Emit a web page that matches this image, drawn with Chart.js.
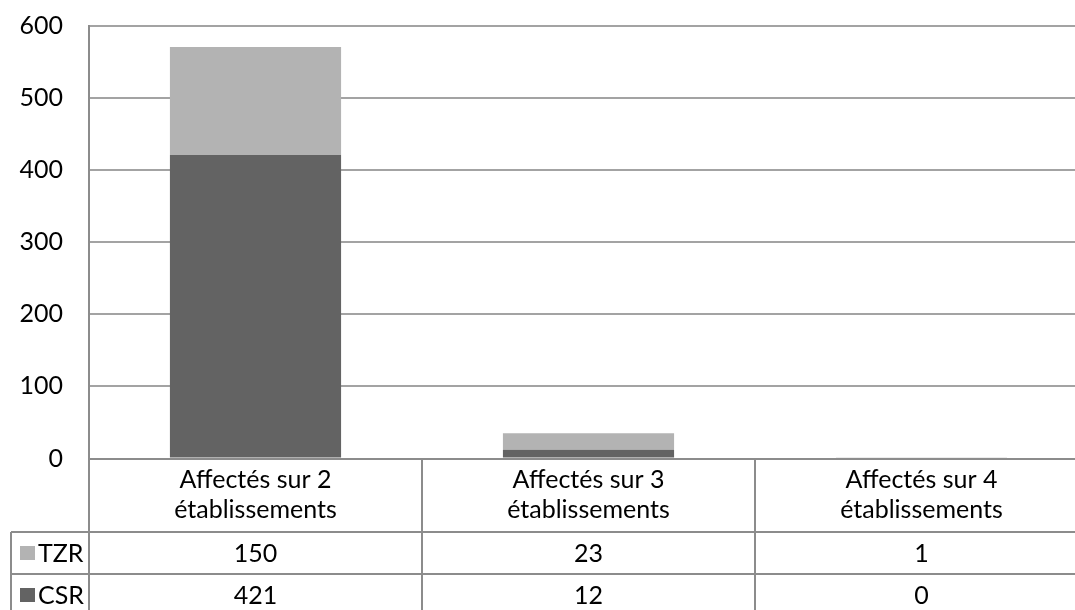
<!DOCTYPE html>
<html>
<head>
<meta charset="utf-8">
<script src="https://cdn.jsdelivr.net/npm/chart.js@4/dist/chart.umd.min.js"></script>
<style>
  html, body { margin: 0; padding: 0; background: #fff; overflow: hidden; }
  #wrap { position: absolute; left: 0; top: 0; width: 1100px; height: 610px; }
</style>
</head>
<body>
<div id="wrap"><canvas id="c" width="1100" height="610"></canvas></div>
<script>
const categories = [["Affectés sur 2", "établissements"], ["Affectés sur 3", "établissements"], ["Affectés sur 4", "établissements"]];
const seriesNames = ["TZR", "CSR"];
const tzrValues = [150, 23, 1];
const csrValues = [421, 12, 0];
const yTicks = [0, 100, 200, 300, 400, 500, 600];

const FONT = "Lato, 'Open Sans', sans-serif";
const FS = 25;
const colTZR = '#b3b3b3';
const colCSR = '#636363';
const lineCol = '#8c8c8c';

const tablePlugin = {
  id: 'dataTable',
  afterDraw(chart) {
    const ctx = chart.ctx;
    const xs = chart.scales.x;
    const area = chart.chartArea;
    const n = categories.length;
    const colW = (area.right - area.left) / n;
    const yTop = area.bottom;
    const yRow1 = yTop + 73.5;
    const yRow2 = yRow1 + 42;
    const yEnd = yRow2 + 42;
    const legLeft = 11;
    ctx.save();
    ctx.strokeStyle = lineCol;
    ctx.lineWidth = 2;
    ctx.beginPath();
    ctx.moveTo(legLeft, yRow1); ctx.lineTo(area.right, yRow1);
    ctx.moveTo(legLeft, yRow2); ctx.lineTo(area.right, yRow2);
    ctx.moveTo(legLeft, yRow1); ctx.lineTo(legLeft, yEnd);
    for (let i = 0; i <= n; i++) {
      const x = area.left + i * colW;
      ctx.moveTo(x, yTop); ctx.lineTo(x, yEnd);
    }
    ctx.stroke();

    const rows = [[seriesNames[0], colTZR, tzrValues, yRow1], [seriesNames[1], colCSR, csrValues, yRow2]];
    ctx.font = FS + 'px ' + FONT;
    ctx.textBaseline = 'middle';
    rows.forEach(([name, col, vals, y0]) => {
      const cy = y0 + 21;
      ctx.fillStyle = col;
      ctx.fillRect(20, cy - 7, 15, 14);
      ctx.fillStyle = '#000';
      ctx.textAlign = 'left';
      ctx.fillText(name, 38, cy + 1);
      ctx.textAlign = 'center';
      vals.forEach((v, i) => {
        ctx.fillText(String(v), xs.getPixelForValue(i), cy + 1);
      });
    });
    ctx.restore();
  }
};

new Chart(document.getElementById('c'), {
  type: 'bar',
  data: {
    labels: categories,
    datasets: [
      { label: seriesNames[1], data: csrValues, backgroundColor: colCSR, borderWidth: 0 },
      { label: seriesNames[0], data: tzrValues, backgroundColor: colTZR, borderWidth: 0 }
    ]
  },
  options: {
    responsive: false,
    animation: false,
    devicePixelRatio: 1,
    layout: { padding: { left: 0, top: 26, right: 12, bottom: 0 } },
    plugins: { legend: { display: false }, tooltip: { enabled: false } },
    datasets: { bar: { barPercentage: 1, categoryPercentage: 0.514 } },
    scales: {
      x: {
        stacked: true,
        grid: { display: false, drawTicks: false },
        border: { display: true, color: lineCol, width: 2 },
        ticks: { color: '#000', font: { family: FONT, size: FS, lineHeight: 30 / FS }, padding: 6.5, maxRotation: 0, autoSkip: false },
        afterFit(scale) { scale.height = 151.5; scale.paddingLeft = 0; scale.paddingRight = 0; }
      },
      y: {
        stacked: true,
        min: 0, max: 600,
        afterBuildTicks(scale) { scale.ticks = yTicks.map(v => ({ value: v })); },
        grid: { color: '#a3a3a3', lineWidth: 2, drawTicks: false },
        border: { display: true, color: lineCol, width: 2 },
        ticks: { color: '#000', font: { family: FONT, size: FS }, padding: 26 },
        afterFit(scale) { scale.width = 89; scale.paddingTop = 0; scale.paddingBottom = 0; }
      }
    }
  },
  plugins: [tablePlugin]
});
</script>
</body>
</html>
